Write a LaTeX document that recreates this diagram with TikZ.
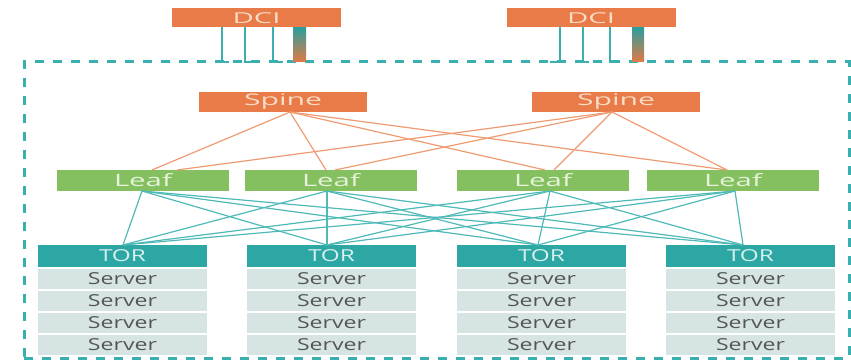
\documentclass[tikz,border=0pt]{standalone}
\usepackage{fontspec}
\setmainfont{Open Sans}
\usepackage{graphicx}
\definecolor{orfill}{HTML}{E87B47}
\definecolor{ortext}{HTML}{FADBC6}
\definecolor{orline}{HTML}{EE9B72}
\definecolor{grfill}{HTML}{84BF60}
\definecolor{grtext}{HTML}{E6F3DA}
\definecolor{tlfill}{HTML}{2CA7A3}
\definecolor{tltext}{HTML}{D6F0EF}
\definecolor{tlline}{HTML}{4FB9B8}
\definecolor{tldash}{HTML}{3AAFB0}
\definecolor{svfill}{HTML}{D6E5E4}
\definecolor{svtext}{HTML}{555555}
\definecolor{grad1}{HTML}{2A9E9C}
\definecolor{grad2}{HTML}{6DB556}
\definecolor{grad3}{HTML}{E27A45}
\newcommand{\sx}[2]{\resizebox{#1}{\height}{#2}}
\begin{document}
\begin{tikzpicture}[x=1pt,y=-1pt,
  base/.style={rectangle,inner sep=0pt,outer sep=0pt},
  dcibox/.style={base,fill=orfill,text=ortext,minimum width=169,minimum height=19,font=\fontsize{15}{15}\selectfont},
  spinebox/.style={base,fill=orfill,text=ortext,minimum width=168,minimum height=20,font=\fontsize{16}{16}\selectfont},
  leafbox/.style={base,fill=grfill,text=grtext,minimum width=172,minimum height=21,font=\fontsize{17}{17}\selectfont},
  torbox/.style={base,fill=tlfill,text=tltext,minimum width=169,minimum height=22,font=\fontsize{16.5}{16.5}\selectfont},
  srvbox/.style={base,fill=svfill,text=svtext,minimum width=169,minimum height=20,font=\fontsize{16.5}{16.5}\selectfont},
  orconn/.style={draw=orline,line width=1.2pt},
  tlconn/.style={draw=tlline,line width=1.2pt},
  dciconn/.style={draw=tldash,line width=2.2pt},
  border/.style={draw=tldash,line width=3pt,dash pattern=on 9pt off 9pt}
]
\useasboundingbox (0,0) rectangle (851,361);

% data-centre border
\node[base,border,minimum width=825,minimum height=296] (dc) at (436.5,210) {};

% DCI
\node[dcibox] (d1) at (256.5,18) {\sx{48pt}{DCI}};
\node[dcibox] (d2) at (591,18) {\sx{48pt}{DCI}};

% DCI links
\foreach \d/\o in {d1/-34.5,d1/-11.5,d1/16.5, d2/-31,d2/-8,d2/19}{
  \draw[dciconn] ([xshift=\o]\d.south) -- ([xshift=\o]\d.south |- dc.north);
}
\draw[dciconn] ([xshift=-41.5]d1.south |- dc.north) -- ([xshift=-27.5]d1.south |- dc.north);
\draw[dciconn] ([xshift=-12.6]d1.south |- dc.north) -- ([xshift=-1.5]d1.south |- dc.north);
\draw[dciconn] ([xshift=15.4]d1.south |- dc.north) -- ([xshift=26.5]d1.south |- dc.north);
\draw[dciconn] ([xshift=-41]d2.south |- dc.north) -- ([xshift=-29.9]d2.south |- dc.north);
\draw[dciconn] ([xshift=-14]d2.south |- dc.north) -- ([xshift=-2]d2.south |- dc.north);
\draw[dciconn] ([xshift=17.9]d2.south |- dc.north) -- ([xshift=29]d2.south |- dc.north);
\shade[top color=grad1,middle color=grad2,bottom color=grad3]
  ([xshift=36.5]d1.south) rectangle ([xshift=49.5]d1.south |- dc.north);
\shade[top color=grad1,middle color=grad2,bottom color=grad3]
  ([xshift=41]d2.south) rectangle ([xshift=53]d2.south |- dc.north);

% Spine
\node[spinebox] (s1) at (283,102) {\sx{78pt}{Spine}};
\node[spinebox] (s2) at (616,102) {\sx{78pt}{Spine}};

% Leaf
\node[leafbox] (l1) at (143,180.5) {\sx{58pt}{Leaf}};
\node[leafbox] (l2) at (331,180.5) {\sx{58pt}{Leaf}};
\node[leafbox] (l3) at (543,180.5) {\sx{58pt}{Leaf}};
\node[leafbox] (l4) at (733,180.5) {\sx{58pt}{Leaf}};

% TOR + servers
\foreach \n/\x in {1/122.5,2/331.5,3/541.5,4/750.5}{
  \node[torbox] (t\n) at (\x,256) {\sx{47pt}{TOR}};
  \foreach \r/\y in {1/279,2/301,3/323,4/345}{
    \node[srvbox] (t\n s\r) at (\x,\y) {\sx{69pt}{Server}};
  }
}

% spine - leaf
\foreach \l/\o in {1/9,2/-5,3/2,4/-6}{
  \draw[orconn] ([xshift=7]s1.south) -- ([xshift=\o]l\l.north);
}
\foreach \l/\o in {1/34,2/4,3/11,4/-6}{
  \draw[orconn] ([xshift=-4]s2.south) -- ([xshift=\o]l\l.north);
}

% leaf - TOR
\foreach \l/\lo in {1/-1,2/-4,3/7,4/2}{
  \foreach \t/\to in {1/0.5,2/-4.5,3/-3.5,4/-7.5}{
    \draw[tlconn] ([xshift=\lo]l\l.south) -- ([xshift=\to]t\t.north);
  }
}
\end{tikzpicture}
\end{document}
